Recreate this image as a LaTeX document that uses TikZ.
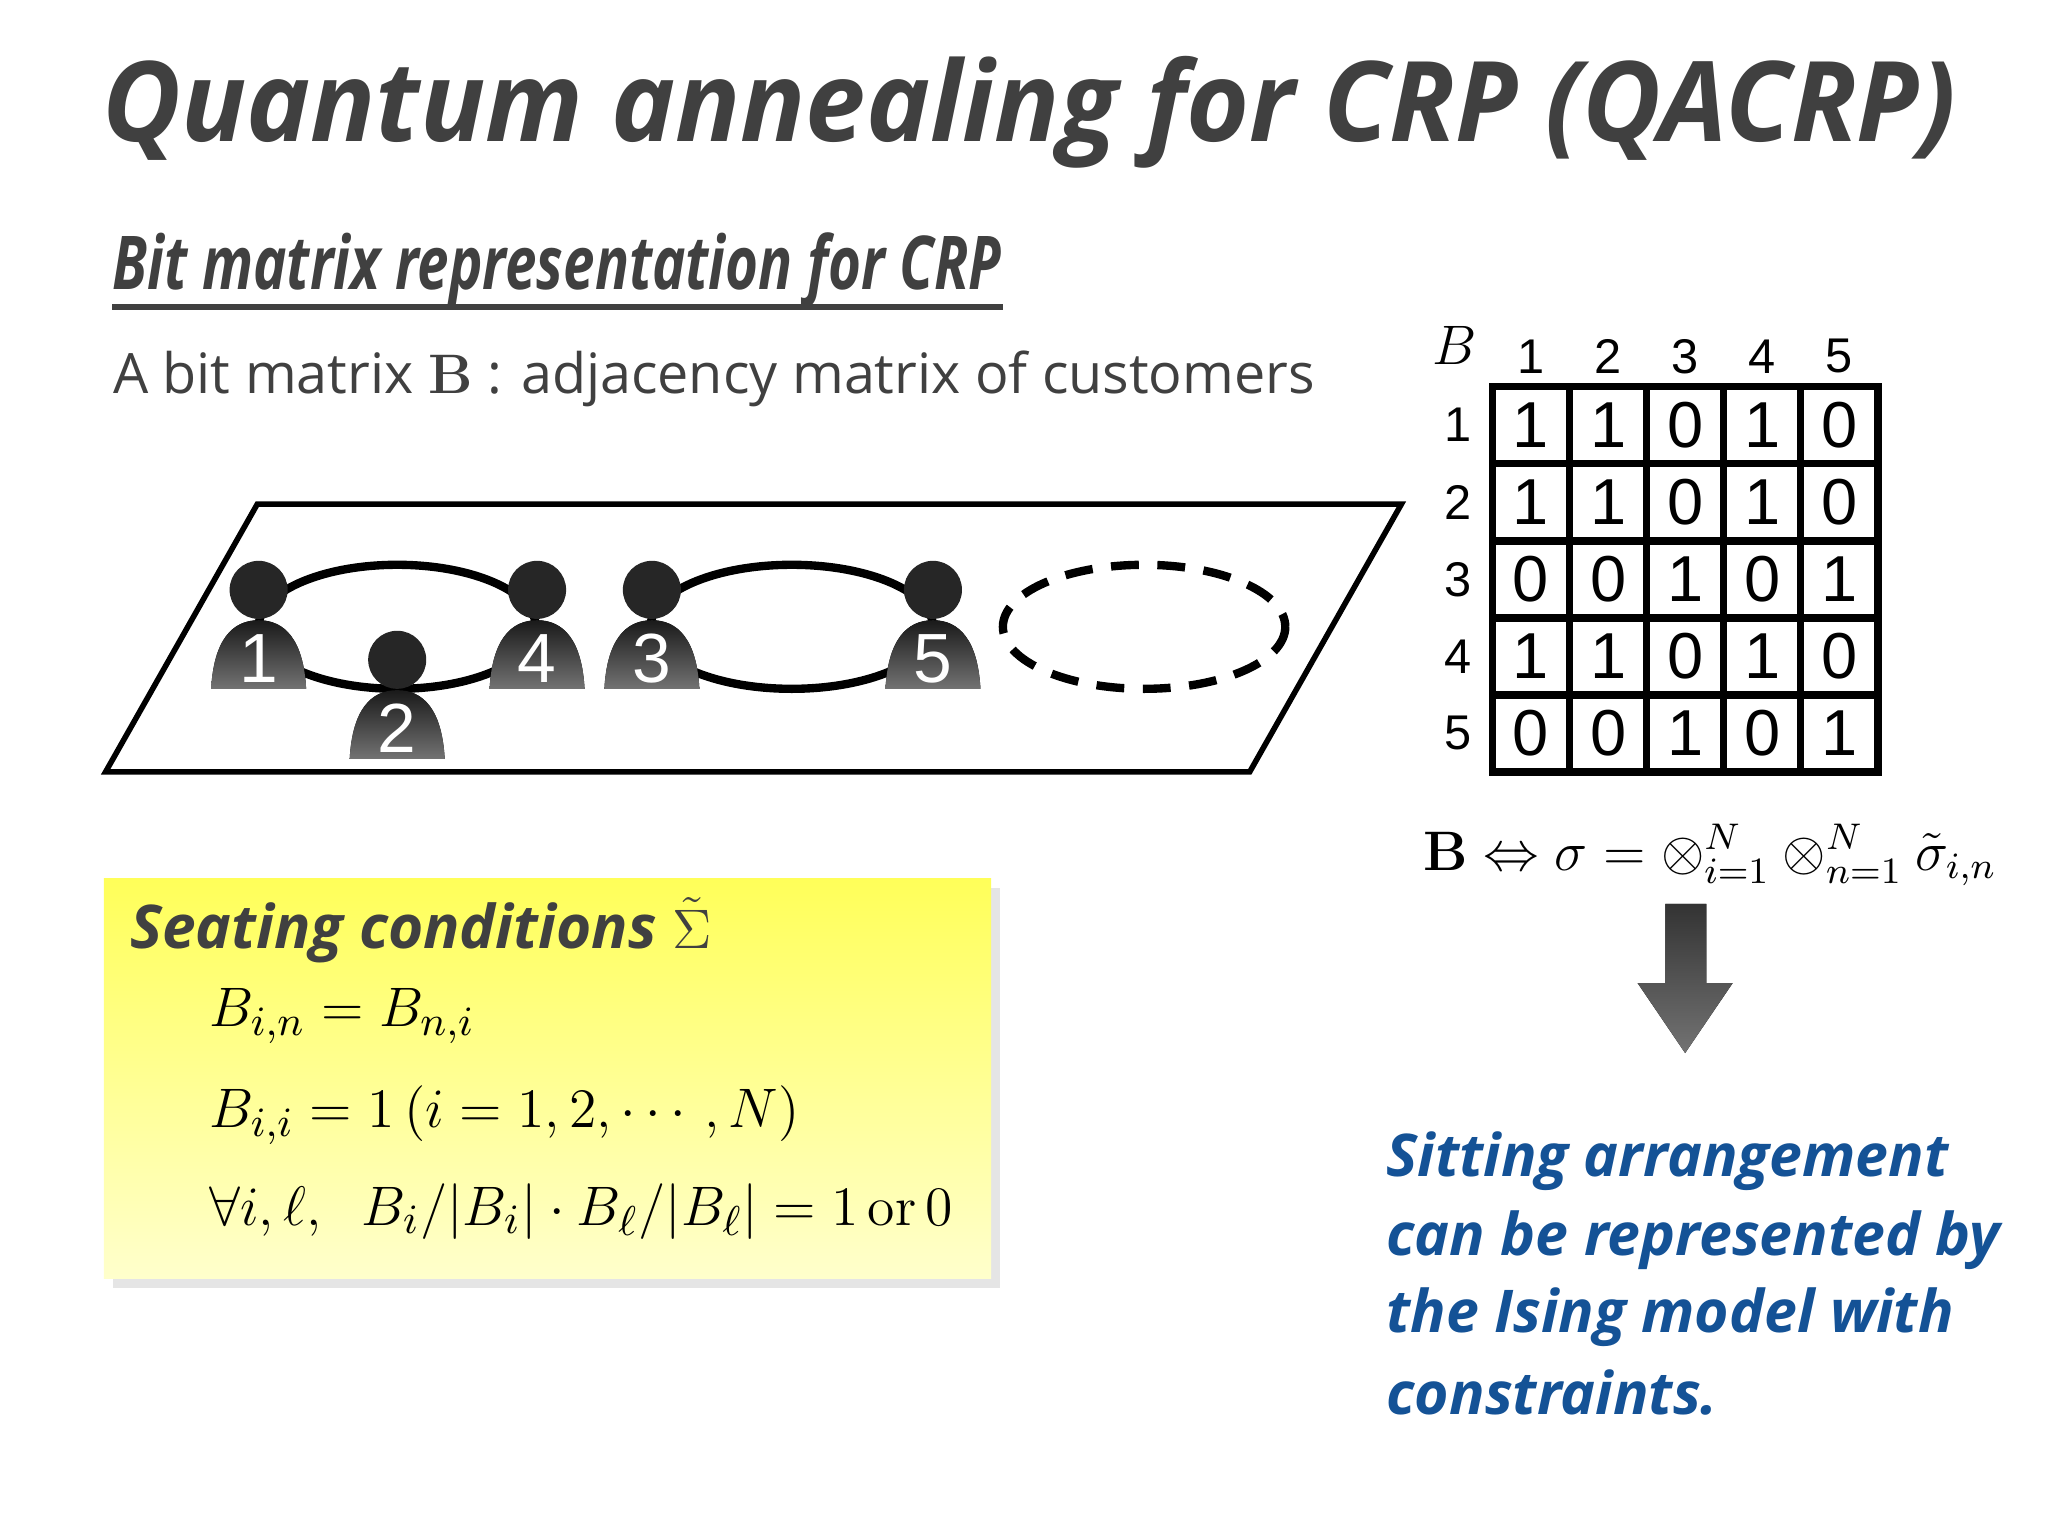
\documentclass[tikz,border=0pt]{standalone}
\usepackage{amsmath,amssymb}
\usepackage[no-math]{fontspec}
\setmainfont{Open Sans}
\setsansfont{Liberation Sans}
\usetikzlibrary{shadows,calc}
\definecolor{tgray}{RGB}{64,64,64}
\definecolor{bluet}{RGB}{20,82,150}
\tikzset{
  x=0.01cm,y=-0.01cm,
  cell/.style={draw,line width=1.6pt,minimum size=0.584cm,inner sep=0,font=\sffamily\fontsize{14}{14}\selectfont},
  lab/.style={font=\sffamily\fontsize{10.5}{11}\selectfont},
  num/.style={text=white,font=\sffamily\fontsize{15}{15}\selectfont},
  bluetext/.style={anchor=west,text=bluet,inner sep=0,font=\bfseries\itshape\fontsize{12.7}{15}\selectfont},
  eq/.style={anchor=west,inner sep=0,font=\fontsize{12.5}{15}\selectfont}
}
\newcommand\myperson[4]{%
  \fill[top color=black!90,bottom color=black!55] (#1-36,#2+75) .. controls (#1-34,#2+38) and (#1-20,#2+23) .. (#1,#2+23) .. controls (#1+20,#2+23) and (#1+34,#2+38) .. (#1+36,#2+75) -- cycle;
  \fill[black!85] (#1,#2) circle (22);
  \node[num] (#4) at (#1,#2+52) {#3};
}
\begin{document}
\begin{tikzpicture}
\useasboundingbox (0,0) rectangle (1552,1164);
\fill[white] (0,0) rectangle (1552,1164);
\node[text=tgray,font=\bfseries\itshape\fontsize{24}{26}\selectfont,xscale=0.97] (title) at (780,85) {Quantum annealing for CRP (QACRP)};
\node[anchor=west,text=tgray,font=\bfseries\itshape\fontsize{16}{20}\selectfont,xscale=0.76,inner sep=0] (sub) at (85,205) {Bit matrix representation for CRP};
\draw[tgray,line width=1.3pt] (85,233) -- (760,233);
\node[anchor=west,text=tgray,font=\fontsize{12}{14}\selectfont,inner sep=0] (desc) at (85,287) {A bit matrix $\mathbf{B}$ : adjacency matrix of customers};
% plane
\draw[line width=1.2pt] (195,382) -- (1062,382) -- (947,585) -- (80,585) -- cycle;
\draw[line width=1.8pt] (301,475) ellipse [x radius=105,y radius=47];
\draw[line width=1.8pt] (600,475) ellipse [x radius=107,y radius=47];
\draw[line width=1.8pt,dash pattern=on 6pt off 4pt] (867,475) ellipse [x radius=107,y radius=47];
\myperson{196}{447}{1}{p1}
\myperson{301}{500}{2}{p2}
\myperson{407}{447}{4}{p4}
\myperson{494}{447}{3}{p3}
\myperson{707}{447}{5}{p5}
% matrix
\node[font=\fontsize{13}{13}\selectfont] (Bm) at (1102,262) {$B$};
\foreach \c in {1,...,5} {
  \node[lab] (col\c) at (1131+58.4*\c-29.2,270) {\c};
  \node[lab] (row\c) at (1105,293+58.4*\c-29.2) {\c};
}
\foreach \r/\row in {1/{1,1,0,1,0},2/{1,1,0,1,0},3/{0,0,1,0,1},4/{1,1,0,1,0},5/{0,0,1,0,1}} {
  \foreach \v [count=\c] in \row {
    \node[cell] (m\r\c) at (1131+58.4*\c-29.2,293+58.4*\r-29.2) {\v};
  }
}
\node[font=\fontsize{12}{14}\selectfont] (form) at (1296,648) {$\mathbf{B}\Leftrightarrow\sigma=\otimes_{i=1}^{N}\otimes_{n=1}^{N}\tilde{\sigma}_{i,n}$};
\fill[top color=black!80,bottom color=black!55] (1262,685) -- (1293,685) -- (1293,745) -- (1313,745) -- (1277,798) -- (1241,745) -- (1262,745) -- cycle;
\coordinate (arrtip) at (1277,798);
% yellow box
\node[draw=none,anchor=north west,minimum width=6.72cm,minimum height=3.03cm,top color=yellow!65,bottom color=yellow!20,drop shadow={opacity=0.2,shadow xshift=2pt,shadow yshift=-2pt}] (box) at (78,665) {};
\node[anchor=west,text=tgray,font=\bfseries\itshape\fontsize{13}{16}\selectfont,inner sep=0] (seat) at (98,705) {Seating conditions $\tilde{\Sigma}$};
\node[eq] (e1) at (158,770) {$B_{i,n}=B_{n,i}$};
\node[eq] (e2) at (158,845) {$B_{i,i}=1\,(i=1,2,\cdots,N)$};
\node[eq] (e3) at (158,918) {$\forall i,\ell,\;\;B_i/|B_i|\cdot B_\ell/|B_\ell|=1\,\mathrm{or}\,0$};
% blue text
\node[bluetext] (t1) at (1050,880) {Sitting arrangement};
\node[bluetext] (t2) at (1050,940) {can be represented by};
\node[bluetext] (t3) at (1050,998) {the Ising model with};
\node[bluetext] (t4) at (1050,1055) {constraints.};
\end{tikzpicture}
\end{document}
